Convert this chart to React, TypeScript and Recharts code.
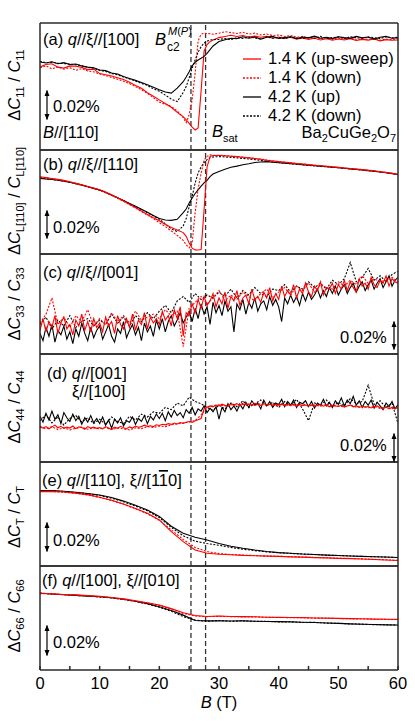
import React from 'react';
import { LineChart, Line, XAxis, YAxis, ReferenceLine } from 'recharts';

const FONT = '"Liberation Sans", Arial, sans-serif';
const RED = '#ff0000';
const BLACK = '#000000';
const FRAME = '#2a2a2a';
const PX_PER_UNIT = 14.75; // pixels per 0.01 %
const B_C2 = 25.3;
const B_SAT = 27.75;

// field grids (T)
const bFine = [
  0, 1, 2, 3, 4, 5, 6, 7, 8, 9, 10, 11, 12, 13, 14, 15, 16, 17, 18, 19, 20, 21, 22, 23, 24,
  24.5, 25, 25.5, 26, 26.5, 27, 27.5, 28, 28.5, 29,
  30, 31, 32, 33, 34, 35, 36, 37, 38, 39, 40, 41, 42, 43, 44, 45, 46, 47, 48, 49, 50,
  51, 52, 53, 54, 55, 56, 57, 58, 59, 60,
];
const bHalf = Array.from({ length: 121 }, (_, i) => i * 0.5);
const bWhole = Array.from({ length: 61 }, (_, i) => i);
const bEven = Array.from({ length: 31 }, (_, i) => i * 2);
const xTicks = [0, 5, 10, 15, 20, 25, 30, 35, 40, 45, 50, 55, 60];

// (a) C11, in units of 0.01 %
const c11RedUp = [
  5.63, 5.80, 5.85, 5.62, 5.55, 5.70, 5.68, 5.60, 5.45, 5.48, 5.18, 5.10, 5.02, 4.90, 4.78, 4.60, 4.38, 4.18, 3.88, 3.65, 3.40, 3.15, 2.90, 2.55, 2.26,
  2.05, 1.81, 1.55, 1.36, 1.50, 4.00, 6.70, 7.15, 7.35, 7.45,
  7.62, 7.70, 7.78, 7.70, 7.76, 7.66, 7.72, 7.64, 7.70, 7.58, 7.66, 7.56, 7.64, 7.52, 7.60, 7.50, 7.58, 7.46, 7.54, 7.44, 7.52, 7.46, 7.55, 7.42, 7.50, 7.45, 7.52, 7.40, 7.48, 7.44, 7.46,
];
const c11RedDown = [
  5.56, 5.70, 5.50, 5.62, 5.48, 5.58, 5.40, 5.52, 5.35, 5.30, 5.15, 5.05, 4.92, 4.80, 4.66, 4.50, 4.30, 4.08, 3.85, 3.55, 3.25, 3.10, 2.95, 2.65, 2.20,
  1.85, 2.40, 3.40, 5.20, 7.40, 7.85, 7.92, 7.90, 7.88, 7.85,
  7.92, 8.02, 7.96, 7.90, 7.98, 7.86, 7.92, 7.80, 7.86, 7.76, 7.80, 7.70, 7.76, 7.64, 7.70, 7.60, 7.68, 7.54, 7.62, 7.50, 7.58, 7.52, 7.60, 7.46, 7.54, 7.50, 7.56, 7.44, 7.52, 7.48, 7.55,
];
const c11BlackUp = [
  5.97, 5.90, 5.98, 5.85, 5.92, 5.80, 5.83, 5.70, 5.62, 5.58, 5.42, 5.38, 5.22, 5.15, 4.98, 4.85, 4.72, 4.58, 4.42, 4.25, 4.08, 3.93, 3.86, 4.20, 4.63,
  4.95, 5.30, 5.70, 5.95, 6.10, 6.22, 6.35, 6.55, 6.80, 7.05,
  7.35, 7.48, 7.58, 7.55, 7.68, 7.58, 7.66, 7.52, 7.64, 7.70, 7.56, 7.62, 7.68, 7.54, 7.66, 7.60, 7.72, 7.58, 7.64, 7.55, 7.68, 7.62, 7.57, 7.70, 7.60, 7.66, 7.52, 7.64, 7.70, 7.58, 7.62,
];
const c11BlackDown = [
  6.02, 5.92, 5.95, 5.88, 5.86, 5.82, 5.78, 5.72, 5.60, 5.55, 5.40, 5.32, 5.18, 5.10, 4.95, 4.82, 4.68, 4.52, 4.38, 4.15, 3.98, 3.72, 3.45, 3.28, 3.90,
  4.30, 4.90, 5.55, 6.10, 6.65, 7.00, 7.25, 7.38, 7.45, 7.48,
  7.50, 7.55, 7.48, 7.62, 7.56, 7.65, 7.60, 7.52, 7.66, 7.58, 7.63, 7.55, 7.68, 7.60, 7.57, 7.64, 7.58, 7.70, 7.56, 7.62, 7.66, 7.54, 7.68, 7.60, 7.58, 7.66, 7.62, 7.55, 7.68, 7.60, 7.64,
];

// (b) C_L[110]
const cLRedUp = [
  5.24, 5.18, 5.12, 5.06, 4.99, 4.90, 4.80, 4.70, 4.58, 4.47, 4.36, 4.20, 4.02, 3.82, 3.60, 3.38, 3.15, 2.92, 2.68, 2.45, 2.25, 2.00, 1.80, 1.62, 1.45,
  1.20, 0.75, 0.40, 0.28, 0.27, 0.30, 3.00, 5.90, 6.62, 6.68,
  6.68, 6.66, 6.63, 6.60, 6.56, 6.52, 6.47, 6.42, 6.36, 6.31, 6.26, 6.22, 6.18, 6.14, 6.10, 6.06, 6.02, 5.98, 5.95, 5.91, 5.87, 5.83, 5.80, 5.76, 5.72, 5.68, 5.64, 5.58, 5.53, 5.47, 5.40,
];
const cLRedDown = [
  5.20, 5.16, 5.10, 5.04, 4.97, 4.89, 4.79, 4.68, 4.56, 4.44, 4.32, 4.16, 3.98, 3.78, 3.57, 3.35, 3.12, 2.88, 2.64, 2.40, 2.12, 1.86, 1.56, 1.26, 0.92,
  0.62, 0.42, 0.72, 2.80, 4.40, 5.47, 6.37, 6.62, 6.72, 6.70,
  6.70, 6.67, 6.64, 6.61, 6.57, 6.53, 6.48, 6.43, 6.37, 6.32, 6.27, 6.23, 6.18, 6.14, 6.10, 6.06, 6.02, 5.98, 5.95, 5.91, 5.87, 5.83, 5.80, 5.76, 5.72, 5.68, 5.64, 5.58, 5.53, 5.47, 5.40,
];
const cLBlackUp = [
  5.13, 5.09, 5.05, 5.00, 4.94, 4.86, 4.77, 4.67, 4.56, 4.45, 4.34, 4.17, 3.99, 3.81, 3.62, 3.43, 3.24, 3.04, 2.83, 2.61, 2.40, 2.31, 2.28, 2.35, 2.80,
  3.05, 3.45, 3.80, 4.10, 4.35, 4.60, 4.82, 5.00, 5.25, 5.42,
  5.60, 5.75, 5.88, 5.96, 6.05, 6.12, 6.20, 6.24, 6.26, 6.22, 6.19, 6.16, 6.13, 6.10, 6.06, 6.02, 5.99, 5.96, 5.92, 5.88, 5.85, 5.81, 5.77, 5.73, 5.69, 5.65, 5.61, 5.56, 5.51, 5.45, 5.39,
];
const cLBlackDown = [
  5.15, 5.10, 5.05, 5.01, 4.93, 4.87, 4.76, 4.68, 4.55, 4.46, 4.32, 4.18, 4.00, 3.80, 3.62, 3.42, 3.22, 3.02, 2.80, 2.58, 2.35, 2.05, 1.70, 1.52, 1.90,
  2.40, 3.20, 3.90, 4.80, 5.50, 5.90, 6.20, 6.40, 6.52, 6.58,
  6.60, 6.58, 6.55, 6.52, 6.48, 6.44, 6.40, 6.35, 6.30, 6.25, 6.20, 6.16, 6.12, 6.08, 6.04, 6.01, 5.98, 5.95, 5.92, 5.88, 5.85, 5.81, 5.77, 5.73, 5.69, 5.65, 5.61, 5.56, 5.51, 5.45, 5.40,
];

// (c) C33, every 0.5 T (solid) and 1 T (dotted)
const c33RedUp = [
  1.6, 2.4, 1.5, 2.2, 1.8, 2.6, 1.4, 2.1, 2.5, 1.7,
  2.0, 1.3, 2.3, 1.9, 2.7, 1.6, 2.2, 1.5, 2.4, 1.8,
  2.1, 1.5, 2.5, 1.9, 2.2, 1.4, 2.6, 2.0, 1.7, 2.4,
  1.8, 2.7, 1.6, 2.3, 2.0, 2.8, 1.7, 2.5, 2.1, 2.4,
  2.0, 2.9, 2.3, 2.6, 1.9, 3.0, 2.4, 3.2, 1.2, 2.8,
  2.6, 3.4, 2.8, 3.7, 3.1, 3.9, 3.3, 3.6, 4.1, 3.2,
  3.8, 3.4, 4.2, 3.1, 3.9, 3.6, 4.3, 3.3, 3.8, 4.0,
  3.4, 4.4, 3.7, 3.9, 3.5, 4.2, 3.8, 4.5, 3.6, 4.1,
  3.7, 4.6, 3.9, 4.3, 4.0, 4.7, 3.8, 4.4, 4.1, 4.8,
  4.2, 3.9, 4.6, 4.3, 4.9, 4.0, 4.5, 4.4, 4.8, 4.1,
  4.7, 4.4, 5.0, 4.3, 4.9, 4.5, 4.2, 5.1, 4.6, 4.8,
  4.4, 5.2, 4.7, 4.5, 5.0, 4.8, 5.3, 4.6, 5.1, 4.9,
  4.8,
];
const c33RedDown = [
  2.1, 2.7, 3.8, 2.0, 2.5, 1.8, 2.6, 2.2, 3.0, 1.9,
  2.4, 2.0, 2.8, 2.2, 2.6, 2.1, 2.9, 2.3, 2.5, 2.7,
  2.4, 3.0, 2.6, 2.9, 0.5, 3.1, 3.5, 3.9, 3.4, 3.8,
  4.3, 3.6, 4.0, 3.7, 4.2, 3.9, 3.6, 4.1, 4.4, 3.8,
  4.2, 4.5, 4.0, 4.6, 4.3, 4.8, 4.2, 4.7, 4.5, 4.4,
  4.9, 4.6, 5.0, 4.7, 5.3, 4.8, 5.1, 4.9, 5.0, 5.2,
  4.9,
];
const c33BlackUp = [
  1.4, 0.9, 1.8, 1.2, 2.0, 0.8, 1.6, 1.3, 1.9, 1.0,
  1.5, 0.7, 1.7, 1.2, 2.1, 1.4, 0.9, 1.8, 1.1, 1.6,
  1.9, 1.0, 1.5, 2.0, 1.2, 0.8, 1.7, 1.4, 2.2, 1.1,
  1.6, 2.0, 1.3, 1.8, 0.9, 2.1, 1.5, 1.9, 1.2, 2.3,
  1.7, 2.4, 1.5, 2.2, 2.6, 1.9, 2.3, 2.8, 2.1, 2.5,
  2.9, 2.2, 3.1, 2.4, 3.4, 2.7, 3.2, 2.0, 3.5, 2.8,
  3.3, 2.6, 3.6, 2.9, 3.2, 1.5, 3.4, 3.0, 3.7, 2.7,
  3.5, 3.1, 3.8, 2.9, 3.4, 3.6, 3.0, 3.9, 3.3, 3.7,
  3.2, 2.2, 3.8, 3.4, 4.0, 3.5, 3.9, 3.3, 4.1, 3.6,
  4.2, 3.7, 4.0, 4.4, 3.8, 4.3, 3.9, 4.5, 4.1, 4.6,
  4.0, 4.4, 4.7, 4.1, 4.5, 4.8, 4.2, 4.6, 4.9, 4.3,
  4.7, 5.0, 4.4, 4.8, 5.1, 4.5, 4.9, 5.3, 4.6, 5.0,
  5.2,
];
const c33BlackDown = [
  2.0, 2.5, 1.7, 2.3, 1.9, 2.6, 1.8, 2.2, 2.4, 1.9,
  2.3, 2.0, 2.7, 2.1, 2.5, 1.9, 2.6, 2.2, 2.8, 2.4,
  2.9, 3.3, 2.8, 3.6, 3.9, 3.5, 4.1, 3.7, 4.0, 3.8,
  4.2, 3.9, 4.4, 3.8, 4.3, 4.0, 4.5, 4.1, 3.9, 4.4,
  4.3, 4.7, 4.2, 4.6, 4.4, 4.9, 4.5, 4.8, 4.4, 5.0,
  4.7, 5.1, 6.2, 4.9, 5.2, 5.8, 5.0, 5.3, 4.9, 5.4,
  5.6,
];

// (d) C44
const c44RedUp = [
  2.45, 2.30, 2.40, 2.25, 2.38, 2.50, 2.32, 2.42, 2.28, 2.36,
  2.30, 2.44, 2.26, 2.38, 2.34, 2.22, 2.40, 2.30, 2.36, 2.28,
  2.34, 2.24, 2.40, 2.30, 2.20, 2.36, 2.28, 2.42, 2.32, 2.26,
  2.38, 2.30, 2.44, 2.36, 2.40, 2.50, 2.42, 2.46, 2.40, 2.52,
  2.48, 2.56, 2.52, 2.60, 2.55, 2.64, 2.58, 2.68, 2.62, 2.70,
  2.74, 2.68, 2.80, 2.86, 2.95, 3.60, 3.72, 3.80, 3.74, 3.86,
  3.80, 3.92, 3.84, 3.78, 3.90, 3.86, 3.96, 3.82, 3.92, 3.88,
  3.94, 3.86, 3.98, 3.90, 3.84, 3.96, 3.88, 3.92, 3.82, 3.90,
  3.86, 3.94, 3.80, 3.90, 3.84, 3.92, 3.78, 3.88, 3.82, 3.86,
  3.80, 3.88, 3.76, 3.84, 3.90, 3.78, 3.86, 3.74, 3.82, 3.80,
  3.76, 3.84, 3.72, 3.80, 3.86, 3.74, 3.82, 3.70, 3.78, 3.72,
  3.76, 3.66, 3.74, 3.80, 3.68, 3.62, 3.72, 3.60, 3.70, 3.64,
  3.66,
];
const c44RedDown = [
  2.35, 2.25, 2.40, 2.20, 2.32, 2.18, 2.28, 2.36, 2.22, 2.30,
  2.26, 2.34, 2.20, 2.30, 2.24, 2.18, 2.32, 2.26, 2.40, 2.34,
  2.44, 2.40, 2.52, 2.58, 2.64, 2.72, 2.80, 3.20, 3.70, 3.82,
  3.88, 3.80, 3.94, 3.86, 3.98, 3.90, 3.84, 3.96, 3.88, 3.92,
  3.84, 3.90, 3.82, 3.88, 3.94, 3.80, 3.86, 3.78, 3.90, 3.84,
  3.80, 3.74, 3.86, 3.72, 3.78, 3.68, 3.76, 3.64, 3.72, 3.62,
  3.70,
];
const c44BlackUp = [
  3.10, 2.70, 3.30, 2.85, 3.45, 2.90, 3.20, 2.60, 3.35, 3.00,
  2.75, 3.25, 2.80, 3.10, 2.55, 3.00, 2.70, 3.15, 2.65, 2.95,
  2.60, 3.05, 2.50, 2.85, 2.30, 2.90, 2.65, 3.00, 2.45, 2.80,
  2.70, 3.05, 2.55, 2.95, 2.75, 3.15, 2.60, 3.10, 2.85, 3.25,
  2.95, 3.30, 2.80, 3.40, 3.05, 3.50, 3.15, 3.35, 3.00, 3.55,
  3.30, 3.70, 3.20, 3.60, 3.45, 3.80, 3.35, 3.65, 3.40, 3.75,
  2.90, 3.70, 3.40, 3.95, 3.55, 3.80, 3.45, 3.90, 3.60, 4.05,
  3.70, 4.15, 3.85, 4.00, 3.60, 4.20, 3.80, 4.10, 3.70, 4.00,
  3.90, 4.25, 3.75, 4.10, 3.85, 4.20, 3.70, 4.05, 3.95, 4.15,
  3.75, 4.10, 3.65, 4.00, 3.85, 4.25, 3.80, 4.05, 3.70, 4.15,
  3.90, 4.35, 3.80, 4.20, 3.95, 4.45, 3.85, 4.15, 3.70, 4.10,
  3.85, 4.20, 3.65, 4.05, 3.80, 3.55, 4.00, 3.75, 4.10, 3.60,
  3.90,
];
const c44BlackDown = [
  2.80, 3.20, 2.65, 3.05, 2.50, 2.95, 3.15, 2.70, 3.00, 2.60,
  2.90, 2.55, 3.05, 2.75, 2.60, 3.10, 2.85, 3.25, 3.05, 3.40,
  3.30, 3.70, 3.55, 4.00, 3.80, 4.40, 4.10, 3.95, 3.70, 3.50,
  3.85, 3.60, 4.00, 3.75, 4.15, 3.70, 3.95, 4.20, 3.80, 4.05,
  3.70, 4.10, 3.85, 4.25, 3.60, 2.80, 4.00, 3.85, 4.20, 3.75,
  4.05, 3.80, 4.30, 3.95, 4.10, 5.20, 3.90, 4.15, 3.70, 4.00,
  2.60,
];

// (e) C_T, every 2 T
const cTRedUp = [5.04, 5.06, 5.02, 4.94, 4.84, 4.66, 4.46, 4.20, 3.90, 3.57, 3.12, 2.33, 1.65, 1.08, 0.86, 0.80, 0.76, 0.72, 0.70, 0.67, 0.65, 0.62, 0.60, 0.57, 0.55, 0.52, 0.50, 0.47, 0.44, 0.41, 0.37];
const cTRedDown = [5.06, 5.05, 5.00, 4.93, 4.82, 4.64, 4.44, 4.18, 3.88, 3.54, 3.10, 2.45, 1.80, 1.26, 0.98, 0.84, 0.78, 0.74, 0.71, 0.68, 0.66, 0.63, 0.61, 0.58, 0.56, 0.53, 0.51, 0.48, 0.45, 0.42, 0.38];
const cTBlackUp = [5.11, 5.12, 5.07, 5.00, 4.92, 4.81, 4.64, 4.40, 4.12, 3.80, 3.36, 2.70, 2.22, 1.95, 1.76, 1.52, 1.34, 1.20, 1.08, 0.98, 0.91, 0.86, 0.81, 0.78, 0.74, 0.71, 0.68, 0.65, 0.63, 0.61, 0.58];
const cTBlackDown = [5.09, 5.10, 5.05, 4.98, 4.90, 4.78, 4.60, 4.36, 4.06, 3.74, 3.28, 2.62, 2.05, 1.68, 1.52, 1.40, 1.26, 1.14, 1.04, 0.96, 0.90, 0.85, 0.81, 0.78, 0.74, 0.71, 0.68, 0.65, 0.63, 0.60, 0.57];

// (f) C66, every 2 T
const c66RedUp = [5.20, 5.17, 5.12, 5.09, 5.04, 5.00, 4.92, 4.82, 4.70, 4.56, 4.41, 4.16, 3.88, 3.70, 3.63, 3.66, 3.63, 3.62, 3.61, 3.58, 3.57, 3.56, 3.55, 3.53, 3.52, 3.50, 3.48, 3.47, 3.45, 3.44, 3.43];
const c66RedDown = [5.18, 5.16, 5.11, 5.08, 5.03, 4.98, 4.91, 4.81, 4.68, 4.54, 4.38, 4.12, 3.84, 3.66, 3.62, 3.64, 3.62, 3.60, 3.60, 3.57, 3.56, 3.55, 3.54, 3.52, 3.51, 3.49, 3.47, 3.46, 3.44, 3.43, 3.42];
const c66BlackUp = [5.20, 5.15, 5.10, 5.06, 5.01, 4.97, 4.90, 4.80, 4.66, 4.50, 4.29, 4.04, 3.72, 3.36, 3.33, 3.34, 3.32, 3.33, 3.31, 3.29, 3.28, 3.26, 3.24, 3.22, 3.19, 3.16, 3.13, 3.10, 3.08, 3.06, 3.05];
const c66BlackDown = [5.22, 5.14, 5.11, 5.05, 5.02, 4.95, 4.88, 4.78, 4.64, 4.47, 4.25, 3.98, 3.62, 3.38, 3.30, 3.36, 3.30, 3.34, 3.30, 3.30, 3.26, 3.27, 3.22, 3.23, 3.18, 3.17, 3.12, 3.11, 3.07, 3.07, 3.03];

type Trace = { name: string; x: number[]; y: number[]; color: string; dotted?: boolean };
type Panel = { id: string; top: number; height: number; ticks: number[]; traces: Trace[] };

const panels: Panel[] = [
  {
    id: 'a', top: 23, height: 127, ticks: [2.03, 4.07, 6.1, 8.14],
    traces: [
      { name: 'ru', x: bFine, y: c11RedUp, color: RED },
      { name: 'rd', x: bFine, y: c11RedDown, color: RED, dotted: true },
      { name: 'bu', x: bFine, y: c11BlackUp, color: BLACK },
      { name: 'bd', x: bFine, y: c11BlackDown, color: BLACK, dotted: true },
    ],
  },
  {
    id: 'b', top: 150, height: 104, ticks: [1.02, 2.98, 5.02],
    traces: [
      { name: 'bu', x: bFine, y: cLBlackUp, color: BLACK },
      { name: 'bd', x: bFine, y: cLBlackDown, color: BLACK, dotted: true },
      { name: 'ru', x: bFine, y: cLRedUp, color: RED },
      { name: 'rd', x: bFine, y: cLRedDown, color: RED, dotted: true },
    ],
  },
  {
    id: 'c', top: 254, height: 100, ticks: [0.27, 2.24, 4.24, 6.24],
    traces: [
      { name: 'bu', x: bHalf, y: c33BlackUp, color: BLACK },
      { name: 'bd', x: bWhole, y: c33BlackDown, color: BLACK, dotted: true },
      { name: 'ru', x: bHalf, y: c33RedUp, color: RED },
      { name: 'rd', x: bWhole, y: c33RedDown, color: RED, dotted: true },
    ],
  },
  {
    id: 'd', top: 354, height: 108, ticks: [1.95, 3.98, 6.01],
    traces: [
      { name: 'bu', x: bHalf, y: c44BlackUp, color: BLACK },
      { name: 'bd', x: bWhole, y: c44BlackDown, color: BLACK, dotted: true },
      { name: 'ru', x: bHalf, y: c44RedUp, color: RED },
      { name: 'rd', x: bWhole, y: c44RedDown, color: RED, dotted: true },
    ],
  },
  {
    id: 'e', top: 462, height: 104, ticks: [0.97, 3.0, 5.04],
    traces: [
      { name: 'bu', x: bEven, y: cTBlackUp, color: BLACK },
      { name: 'bd', x: bEven, y: cTBlackDown, color: BLACK, dotted: true },
      { name: 'ru', x: bEven, y: cTRedUp, color: RED },
      { name: 'rd', x: bEven, y: cTRedDown, color: RED, dotted: true },
    ],
  },
  {
    id: 'f', top: 566, height: 104, ticks: [0.95, 3.05, 5.08],
    traces: [
      { name: 'bu', x: bEven, y: c66BlackUp, color: BLACK },
      { name: 'bd', x: bEven, y: c66BlackDown, color: BLACK, dotted: true },
      { name: 'ru', x: bEven, y: c66RedUp, color: RED },
      { name: 'rd', x: bEven, y: c66RedDown, color: RED, dotted: true },
    ],
  },
];

const toPoints = (x: number[], y: number[]) => y.map((v, i) => ({ B: x[i], v }));

const PanelChart = ({ p, last }: { p: Panel; last: boolean }) => {
  const yMax = p.height / PX_PER_UNIT;
  const padT = 2;
  const padB = last ? 34 : 2;
  const axis = { stroke: FRAME, strokeWidth: 1.5 };
  // axes are 1px wide/high so they render; margins shrink by that 1px
  return (
    <div style={{ position: 'absolute', left: 0, top: p.top - padT }}>
      <LineChart
        width={415}
        height={p.height + padT + padB}
        margin={{ top: padT - 1, right: 16, bottom: padB - 1, left: 39 }}
      >
        <XAxis
          xAxisId="bottom"
          type="number"
          dataKey="B"
          domain={[0, 60]}
          allowDataOverflow
          ticks={xTicks}
          orientation="bottom"
          height={1}
          tickSize={-4}
          tickMargin={11}
          axisLine={axis}
          tickLine={axis}
          tick={last ? { fill: '#000', fontSize: 16.5, fontFamily: FONT } : false}
          tickFormatter={(v: number) => (v % 10 === 0 ? String(v) : '')}
          interval={0}
        />
        <XAxis
          xAxisId="top"
          type="number"
          dataKey="B"
          domain={[0, 60]}
          allowDataOverflow
          ticks={xTicks}
          orientation="top"
          height={1}
          tickSize={-4}
          axisLine={axis}
          tickLine={axis}
          tick={false}
          interval={0}
        />
        <YAxis
          yAxisId="left"
          type="number"
          domain={[0, yMax]}
          allowDataOverflow
          ticks={p.ticks}
          width={1}
          tickSize={-5}
          axisLine={axis}
          tickLine={axis}
          tick={false}
          interval={0}
        />
        <YAxis
          yAxisId="right"
          orientation="right"
          type="number"
          domain={[0, yMax]}
          allowDataOverflow
          ticks={p.ticks}
          width={1}
          tickSize={-5}
          axisLine={axis}
          tickLine={axis}
          tick={false}
          interval={0}
        />
        {[B_C2, B_SAT].map((b) => (
          <ReferenceLine
            key={b}
            xAxisId="bottom"
            yAxisId="left"
            x={b}
            stroke="#333"
            strokeWidth={1.3}
            strokeDasharray="5 3"
          />
        ))}
        {p.traces.map((t) => (
          <Line
            key={t.name}
            xAxisId="bottom"
            yAxisId="left"
            data={toPoints(t.x, t.y)}
            dataKey="v"
            type="linear"
            stroke={t.color}
            strokeWidth={1.1}
            strokeDasharray={t.dotted ? '2 1.5' : undefined}
            dot={false}
            activeDot={false}
            isAnimationActive={false}
          />
        ))}
      </LineChart>
    </div>
  );
};

const I = ({ children }: { children: React.ReactNode }) => <tspan fontStyle="italic">{children}</tspan>;

const Overlay = () => {
  const sub = 11;
  return (
    <svg
      width={415}
      height={721}
      style={{ position: 'absolute', left: 0, top: 0, pointerEvents: 'none' }}
      fontFamily={FONT}
      fontSize={16.5}
      fill="#000"
    >
      <defs>
        <marker id="ah" markerWidth="6" markerHeight="6" refX="5.5" refY="3" orient="auto-start-reverse" markerUnits="userSpaceOnUse">
          <path d="M0,0.5 L6,3 L0,5.5 z" fill="#000" />
        </marker>
      </defs>

      <g style={{ whiteSpace: 'pre' }}>
        {/* y labels */}
        <text x={20} y={85} transform="rotate(-90 20 85)" textAnchor="middle">
          Δ<I>C</I><tspan fontSize={sub} dy={4}>11</tspan><tspan dy={-4}> / </tspan><I>C</I><tspan fontSize={sub} dy={4}>11</tspan>
        </text>
        <text x={20} y={201} transform="rotate(-90 20 201)" textAnchor="middle">
          Δ<I>C</I><tspan fontSize={sub} dy={4}>L[110]</tspan><tspan dy={-4}> / </tspan><I>C</I><tspan fontSize={sub} dy={4}>L[110]</tspan>
        </text>
        <text x={20} y={304} transform="rotate(-90 20 304)" textAnchor="middle">
          Δ<I>C</I><tspan fontSize={sub} dy={4}>33</tspan><tspan dy={-4}> / </tspan><I>C</I><tspan fontSize={sub} dy={4}>33</tspan>
        </text>
        <text x={20} y={407} transform="rotate(-90 20 407)" textAnchor="middle">
          Δ<I>C</I><tspan fontSize={sub} dy={4}>44</tspan><tspan dy={-4}> / </tspan><I>C</I><tspan fontSize={sub} dy={4}>44</tspan>
        </text>
        <text x={20} y={517} transform="rotate(-90 20 517)" textAnchor="middle">
          Δ<I>C</I><tspan fontSize={sub} dy={4}>T</tspan><tspan dy={-4}> / </tspan><I>C</I><tspan fontSize={sub} dy={4}>T</tspan>
        </text>
        <text x={20} y={616} transform="rotate(-90 20 616)" textAnchor="middle">
          Δ<I>C</I><tspan fontSize={sub} dy={4}>66</tspan><tspan dy={-4}> / </tspan><I>C</I><tspan fontSize={sub} dy={4}>66</tspan>
        </text>

        {/* panel captions */}
        <text x={43} y={45}>(a) <I>q</I>//ξ//[100]</text>
        <text x={155} y={45}><I>B</I></text>
        <text x={167} y={51} fontSize={12}>c2</text>
        <text x={168} y={35} fontSize={11}><I>M</I>(<I>P</I>)</text>
        <text x={43} y={138}><I>B</I>//[110]</text>
        <text x={212} y={137}><I>B</I></text>
        <text x={223} y={142} fontSize={11}>sat</text>
        <text x={396} y={138} textAnchor="end">
          Ba<tspan fontSize={sub} dy={4}>2</tspan><tspan dy={-4}>CuGe</tspan><tspan fontSize={sub} dy={4}>2</tspan><tspan dy={-4}>O</tspan><tspan fontSize={sub} dy={4}>7</tspan>
        </text>

        <text x={43} y={170}>(b) <I>q</I>//ξ//[110]</text>
        <text x={43} y={278}>(c)  <I>q</I>//ξ//[001]</text>
        <text x={47} y={379}>(d) <I>q</I>//[001]</text>
        <text x={72} y={397}>ξ//[100]</text>
        <text x={42} y={486}>
          (e) <I>q</I>//[110], ξ//[1<tspan textDecoration="overline">1</tspan>0]
        </text>
        <text x={42} y={586}>(f) <I>q</I>//[100], ξ//[010]</text>

        {/* scale bar labels */}
        <text x={53} y={112}>0.02%</text>
        <text x={53} y={233}>0.02%</text>
        <text x={340} y={343}>0.02%</text>
        <text x={340} y={451}>0.02%</text>
        <text x={53} y={546}>0.02%</text>
        <text x={53} y={648}>0.02%</text>

        <text x={219} y={708} textAnchor="middle"><I>B</I> (T)</text>

        {/* legend */}
        <text x={268} y={64}>1.4 K (up-sweep)</text>
        <text x={268} y={83}>1.4 K (down)</text>
        <text x={268} y={102}>4.2 K (up)</text>
        <text x={268} y={121}>4.2 K (down)</text>
      </g>

      <line x1={243} x2={261} y1={59} y2={59} stroke={RED} strokeWidth={1.3} />
      <line x1={243} x2={261} y1={78} y2={78} stroke={RED} strokeWidth={1.3} strokeDasharray="2 1.5" />
      <line x1={243} x2={261} y1={97} y2={97} stroke={BLACK} strokeWidth={1.3} />
      <line x1={243} x2={261} y1={116} y2={116} stroke={BLACK} strokeWidth={1.3} strokeDasharray="2 1.5" />

      {[
        [47, 90, 120],
        [47, 210, 239],
        [394, 321, 350],
        [394, 433, 462],
        [47, 522, 552],
        [47, 625, 656],
      ].map(([x, y1, y2], i) => (
        <line
          key={i}
          x1={x}
          x2={x}
          y1={y1 + 0.5}
          y2={y2 - 0.5}
          stroke="#000"
          strokeWidth={1.2}
          markerStart="url(#ah)"
          markerEnd="url(#ah)"
        />
      ))}
    </svg>
  );
};

export default function App() {
  return (
    <div style={{ position: 'absolute', left: 0, top: 0, width: 415, height: 721, background: '#fff', fontFamily: FONT }}>
      {panels.map((p, i) => (
        <PanelChart key={p.id} p={p} last={i === panels.length - 1} />
      ))}
      <Overlay />
    </div>
  );
}
